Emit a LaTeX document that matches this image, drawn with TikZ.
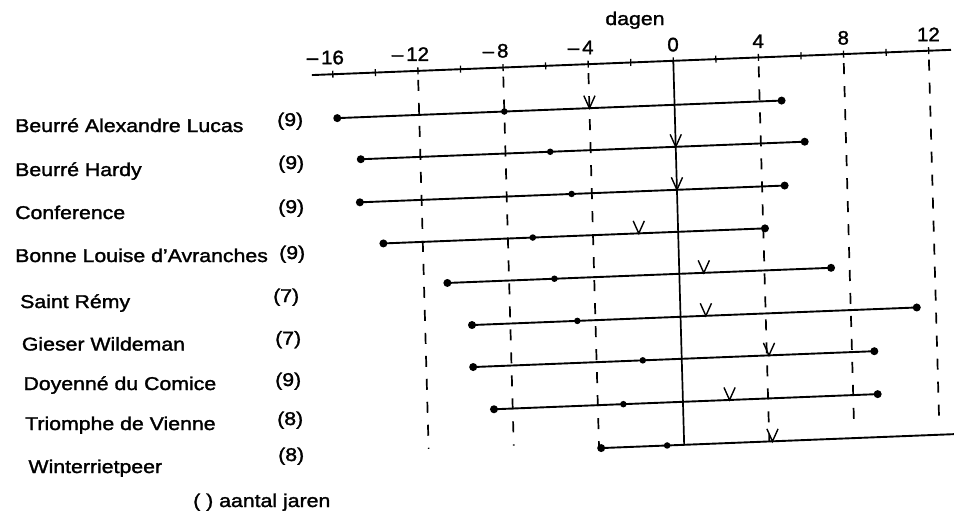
\documentclass[tikz,border=0pt]{standalone}
\usepackage{fontspec}
\setmainfont[FakeStretch=1.15,FakeBold=1.6]{Liberation Sans}
\newfontfamily\tickfont[FakeStretch=1.05,FakeBold=1.6]{Liberation Sans}
\begin{document}
\begin{tikzpicture}[x=1pt,y=-1pt,
  font=\fontsize{18.5}{20}\selectfont,
  axisline/.style={line width=1.9pt},
  tickline/.style={line width=1.3pt},
  rowline/.style={line width=1.9pt},
  gridline/.style={line width=1.7pt, dash pattern=on 11pt off 12pt},
  zeroline/.style={line width=1.7pt},
  enddot/.style={circle, fill, inner sep=0pt, minimum size=8pt},
  middot/.style={circle, fill, inner sep=0pt, minimum size=6.5pt},
  vmark/.style={line width=1.4pt},
  ticklab/.style={anchor=base, inner sep=0pt, font=\tickfont\fontsize{19.5}{21}\selectfont},
  lab/.style={anchor=base west, inner sep=0pt}]
\useasboundingbox (0,0) rectangle (954,515);

% ---------- chart (slightly skewed scan geometry) ----------
\begin{scope}[shift={(673.3pt,-60.8pt)}, x={(21.28pt,0.84pt)}, y={(0.0283pt,-1pt)}]
  % axis
  \coordinate (axL) at (-16.98,0);
  \coordinate (axR) at (13.05,0);
  \draw[axisline] (axL) -- (axR);
  \foreach \d [count=\k] in {-16,-14,...,12}{
    \coordinate (ta\k) at (\d,-3.5);
    \coordinate (tb\k) at (\d,3.5);
    \draw[tickline] (ta\k) -- (tb\k);
  }
  % tick labels
  \foreach \d/\t in {-16/16,-12/12,-8/8,-4/4}{
    \node[ticklab] (tlm\t) at (\d,-10) {\llap{–\hspace{3pt}}\t};
  }
  \foreach \d in {0,4,8,12}{
    \node[ticklab] (tlp\d) at (\d,-9.5) {\d};
  }
  % dashed verticals
  \foreach \d/\e [count=\k] in {-12/378,-8/378,-4/384,4/384,8/376,12/376}{
    \coordinate (gt\k) at (\d,9);
    \coordinate (gb\k) at (\d,\e);
    \draw[gridline] (gt\k) -- (gb\k);
  }
  % solid zero line
  \coordinate (z0) at (0,0);
  \coordinate (z9) at (0,384);
  \draw[zeroline] (z0) -- (z9);
  % rows 1-8
  \foreach \h/\l/\m/\v/\r [count=\i] in {
      44/-15.85/-8/-4/5.03,
      86/-14.8/-5.9/0/6.06,
      129/-14.9/-4.95/0/5.06,
      171/-13.85/-6.83/-1.85/4.08,
      213/-10.9/-5.87/1.15/7.13,
      256/-9.8/-4.85/1.19/11.1,
      298/-9.8/-1.83/4.1/9.05,
      341/-8.88/-2.8/2.19/9.15}{
    \coordinate (L\i) at (\l,\h);
    \coordinate (R\i) at (\r,\h);
    \coordinate (V\i) at (\v,\h);
    \draw[rowline] (L\i) -- (R\i);
    \node[enddot] (dl\i) at (L\i) {};
    \node[middot] (dm\i) at (\m,\h) {};
    \node[enddot] (dr\i) at (R\i) {};
    \draw[vmark] (V\i) ++(-5.6pt,12.5pt) -- (V\i) -- ++(5.6pt,12.5pt);
  }
  % row 9 (runs off to the right)
  \coordinate (L9) at (-3.9,384);
  \coordinate (R9) at (13.2,384);
  \coordinate (V9) at (4.15,384);
  \draw[rowline] (L9) -- (R9);
  \node[enddot] (dl9) at (L9) {};
  \node[middot] (dm9) at (-0.8,384) {};
  \draw[vmark] (V9) ++(-5.6pt,12.5pt) -- (V9) -- ++(5.6pt,12.5pt);
\end{scope}

\node[anchor=base, inner sep=0pt] (dagen) at (635,25) {dagen};

% ---------- left labels ----------
\node[lab] (n1) at (15,132) {Beurré Alexandre Lucas};
\node[lab] (n2) at (15,176) {Beurré Hardy};
\node[lab] (n3) at (15,219) {Conference};
\node[lab] (n4) at (15,262) {Bonne Louise d’Avranches};
\node[lab] (n5) at (20,308) {Saint Rémy};
\node[lab] (n6) at (21.7,350.5) {Gieser Wildeman};
\node[lab] (n7) at (23.3,390) {Doyenné du Comice};
\node[lab] (n8) at (25,430) {Triomphe de Vienne};
\node[lab] (n9) at (28.3,473) {Winterrietpeer};

\node[lab] (c1) at (277,126) {(9)};
\node[lab] (c2) at (278,169) {(9)};
\node[lab] (c3) at (278,213) {(9)};
\node[lab] (c4) at (279,259) {(9)};
\node[lab] (c5) at (273,302) {(7)};
\node[lab] (c6) at (275,344.5) {(7)};
\node[lab] (c7) at (275,386) {(9)};
\node[lab] (c8) at (277,425) {(8)};
\node[lab] (c9) at (278,461) {(8)};

\node[lab] (legend) at (193,507) {( ) aantal jaren};
\end{tikzpicture}
\end{document}
